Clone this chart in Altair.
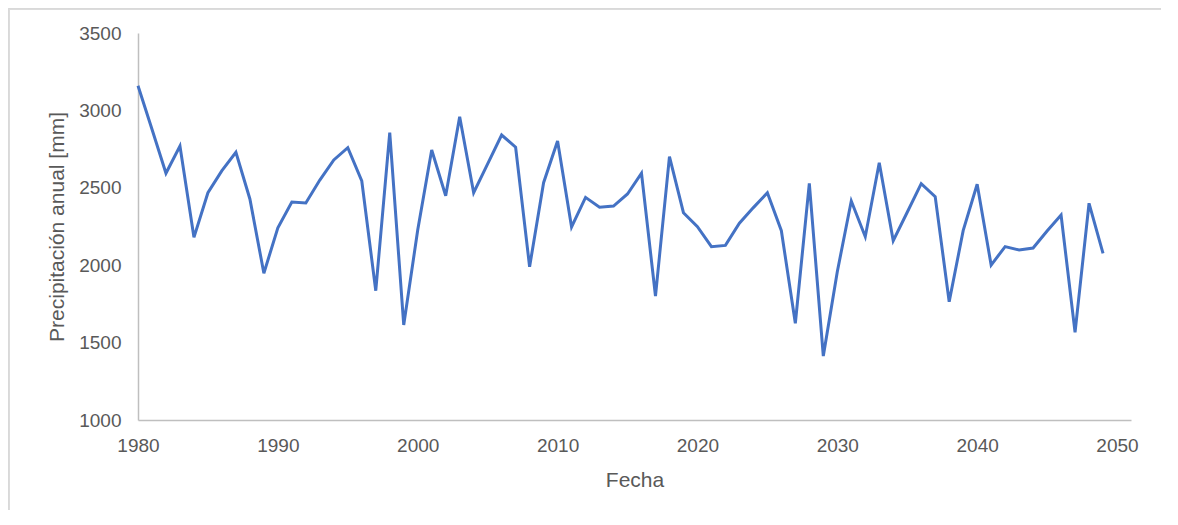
import altair as alt
import pandas as pd

years = list(range(1980, 2050))
precip = [3159, 2878, 2594, 2770, 2180, 2468, 2611, 2729, 2428, 1948,
          2242, 2408, 2402, 2550, 2680, 2759, 2544, 1835, 2856, 1614,
          2227, 2744, 2449, 2959, 2468, 2655, 2841, 2762, 1990, 2533,
          2802, 2247, 2438, 2374, 2382, 2460, 2594, 1801, 2701, 2339,
          2249, 2120, 2128, 2271, 2372, 2468, 2223, 1625, 2529, 1413,
          1958, 2415, 2184, 2662, 2158, 2342, 2527, 2443, 1764, 2223,
          2523, 2001, 2120, 2098, 2111, 2221, 2324, 1566, 2400, 2077]
x_ticks = [1980, 1990, 2000, 2010, 2020, 2030, 2040, 2050]
y_ticks = [1000, 1500, 2000, 2500, 3000, 3500]

df = pd.DataFrame({"Fecha": years, "Precip": precip})

FONT = "Liberation Sans"
GRAY = "#595959"

line = alt.Chart(df).mark_line(color="#4472C4", strokeWidth=3, strokeJoin="miter").encode(
    x=alt.X("Fecha:Q",
            scale=alt.Scale(domain=[1980, 2051], nice=False, zero=False),
            axis=alt.Axis(values=x_ticks, format="d", title="Fecha", grid=False,
                          ticks=False, labelPadding=16, titlePadding=14,
                          labelFlush=False, labelOverlap=False,
                          domainColor="#BFBFBF", domainWidth=1.5,
                          labelFont=FONT, labelFontSize=19, labelColor=GRAY,
                          titleFont=FONT, titleFontSize=21, titleColor=GRAY,
                          titleFontWeight="normal")),
    y=alt.Y("Precip:Q",
            scale=alt.Scale(domain=[1000, 3500], nice=False, zero=False),
            axis=alt.Axis(values=y_ticks, format="d", title="Precipitación anual [mm]",
                          grid=False, ticks=False, labelPadding=17, titlePadding=11,
                          labelFlush=False, labelOverlap=False,
                          domainColor="#BFBFBF", domainWidth=1.5,
                          labelFont=FONT, labelFontSize=19, labelColor=GRAY,
                          titleFont=FONT, titleFontSize=21, titleColor=GRAY,
                          titleFontWeight="normal")),
)

border_top = alt.Chart(df).mark_rule(color="#D9D9D9", strokeWidth=1.5).encode(
    x=alt.value(-129.5), x2=alt.value(1030), y=alt.value(-24.5))
border_left = alt.Chart(df).mark_rule(color="#D9D9D9", strokeWidth=1.5).encode(
    x=alt.value(-129.5), y=alt.value(-24.5), y2=alt.value(490))

chart = alt.layer(border_top, border_left, line).properties(
    width=993, height=387,
    autosize=alt.AutoSizeParams(type="none"),
    padding={"left": 130, "top": 25, "right": 30, "bottom": 90},
).configure(background="white").configure_view(strokeWidth=0, stroke=None)

chart.save("out.html", embed_options={"renderer": "svg", "actions": False})
